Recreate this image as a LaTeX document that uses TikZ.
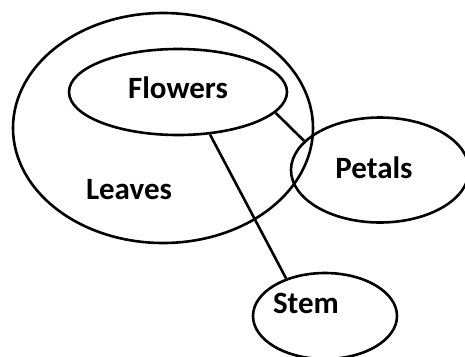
\documentclass[tikz,border=0pt]{standalone}
\usepackage{fontspec}
\setmainfont{Carlito}
\usetikzlibrary{shapes.geometric}

\begin{document}
\begin{tikzpicture}[x=1pt,y=-1pt,
            blob/.style={draw,ellipse,line width=2.6pt,inner sep=0pt},
            lbl/.style={font=\fontsize{31}{36}\selectfont\bfseries,inner sep=0pt},
            link/.style={line width=2.6pt}]
        \useasboundingbox (0,0) rectangle (465,356);
        % outer ellipse and its text
        \node[blob,minimum width=300,minimum height=230] (leaves) at (163,128) {};
        \node[lbl] (leavestxt) at (129,190) {Leaves};
        % inner and outer parts
        \node[blob,minimum width=218,minimum height=86] (flowers) at (178,92) {};
        \node[lbl] (flowerstxt) at (178,88) {Flowers};
        \node[blob,minimum width=178,minimum height=105] (petals) at (380,170) {};
        \node[lbl] (petalstxt) at (374,168) {Petals};
        \node[blob,minimum width=144,minimum height=86] (stem) at (325,316) {};
        \node[lbl] (stemtxt) at (306,303) {Stem};
        % links
        \draw[link] (flowers.-12) -- (petals.159);
        \draw[link] (flowers.-53) -- (stem.136);
\end{tikzpicture}
\end{document}
